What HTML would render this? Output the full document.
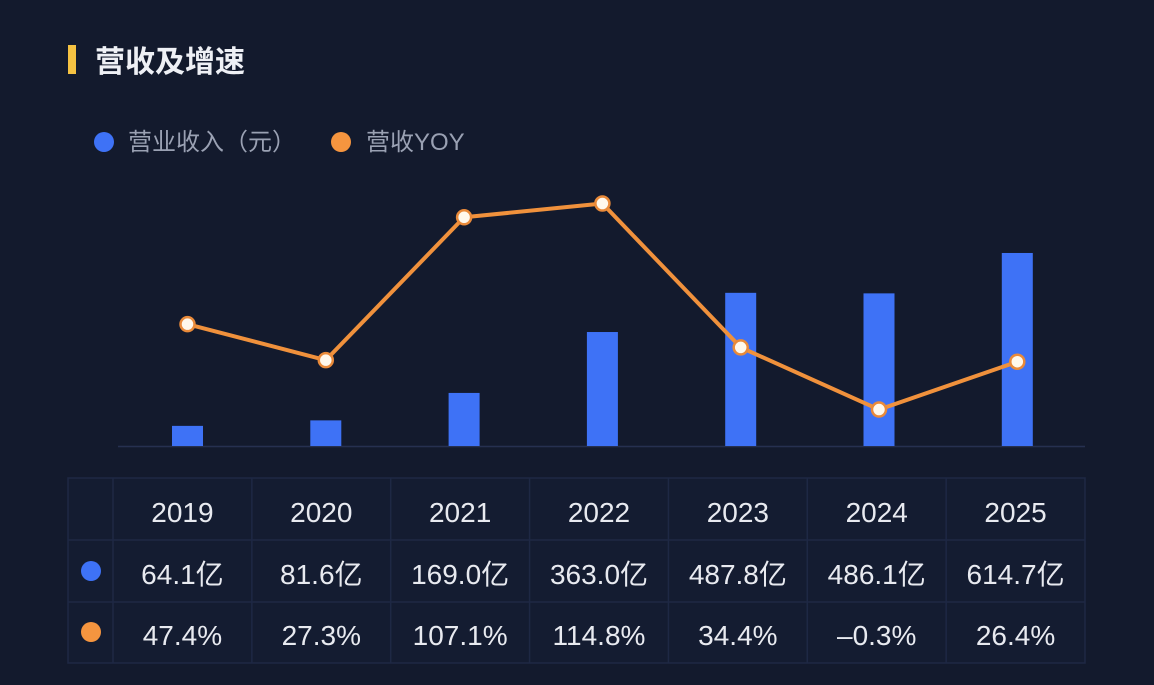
<!DOCTYPE html>
<html><head><meta charset="utf-8">
<style>
html,body{margin:0;padding:0;width:1154px;height:685px;background:#131a2d;overflow:hidden;font-family:"Liberation Sans","Noto Sans CJK SC",sans-serif;}
</style></head>
<body>
<svg id="chart" width="1154" height="685" xmlns="http://www.w3.org/2000/svg">
<rect x="0" y="0" width="1154" height="685" fill="#131a2d"/>
<rect x="68" y="45" width="8" height="29" fill="#f5c242"/>
<text x="95" y="72" font-size="30" fill="#eef0f5" font-weight="bold" font-family="Liberation Sans, Noto Sans CJK SC, sans-serif">营收及增速</text>
<g>
<circle cx="104" cy="142" r="10" fill="#3e72f6"/>
<text x="128" y="150" font-size="24" fill="#9aa1b3" font-family="Liberation Sans, Noto Sans CJK SC, sans-serif">营业收入（元）</text>
<circle cx="341" cy="142" r="10" fill="#f5953f"/>
<text x="366" y="150" font-size="24" fill="#9aa1b3" font-family="Liberation Sans, Noto Sans CJK SC, sans-serif">营收YOY</text>
</g>
<line x1="118" y1="446.5" x2="1085" y2="446.5" stroke="#263050" stroke-width="1.5"/>
<g id="bars"></g><g id="line"></g><g id="table"></g>
</svg>
<script>
const categories = ["2019","2020","2021","2022","2023","2024","2025"];
const revenue = [64.1, 81.6, 169.0, 363.0, 487.8, 486.1, 614.7];
const yoy = [47.4, 27.3, 107.1, 114.8, 34.4, -0.3, 26.4];
const revenueLabels = ["64.1亿","81.6亿","169.0亿","363.0亿","487.8亿","486.1亿","614.7亿"];
const yoyLabels = ["47.4%","27.3%","107.1%","114.8%","34.4%","–0.3%","26.4%"];

const NS = "http://www.w3.org/2000/svg";
function mk(tag, attrs, parent){const e=document.createElementNS(NS,tag);for(const k in attrs)e.setAttribute(k,attrs[k]);parent.appendChild(e);return e;}
const xC = i => 187.5 + i*138.3;
const yBar = v => 446 - v*0.314;
const yLine = v => 409 - v*1.79;

const bars = document.getElementById('bars');
revenue.forEach((v,i)=>{
  const r = mk('rect',{x:xC(i)-15.5,y:yBar(v),width:31,height:446-yBar(v),fill:'#3e72f6'},bars);
  
  
});
const lg = document.getElementById('line');
const pts = yoy.map((v,i)=>xC(i)+','+yLine(v)).join(' ');
const pl = mk('polyline',{points:pts,fill:'none',stroke:'#f0913c','stroke-width':4,'stroke-linejoin':'round'},lg);


yoy.forEach((v,i)=>{
  const c = mk('circle',{cx:xC(i),cy:yLine(v),r:7,fill:'#fff8ec',stroke:'#e98a3a','stroke-width':2.5},lg);
  
  
});

const tb = document.getElementById('table');
const left=68,colW=(1085-113)/7,rows=[478,540,602,663];
const bg = mk('rect',{x:left,y:478,width:1085-left,height:185,fill:'#141c31',stroke:'#1e2844','stroke-width':1.5},tb);


for(let r=1;r<3;r++){const l=mk('line',{x1:left,y1:rows[r],x2:1085,y2:rows[r],stroke:'#1e2844','stroke-width':1.5},tb);

}
for(let c=0;c<7;c++){const x=113+c*colW;const l=mk('line',{x1:x,y1:478,x2:x,y2:663,stroke:'#1e2844','stroke-width':1.5},tb);

}
const d1=mk('circle',{cx:91,cy:571,r:10,fill:'#3e72f6'},tb);


const d2=mk('circle',{cx:91,cy:632,r:10,fill:'#f5953f'},tb);


const rowsData=[categories,revenueLabels,yoyLabels];
const ys=[522,584,645];
const names=['table-year','table-revenue','table-yoy'];
rowsData.forEach((arr,r)=>arr.forEach((s,i)=>{
  const t=mk('text',{x:113+colW*(i+0.5),y:ys[r],'text-anchor':'middle','font-size':28,fill:'#e8eaf0','font-family':'Liberation Sans, Noto Sans CJK SC, sans-serif'},tb);
  t.textContent=s;
  
  
}));
</script>
</body></html>
